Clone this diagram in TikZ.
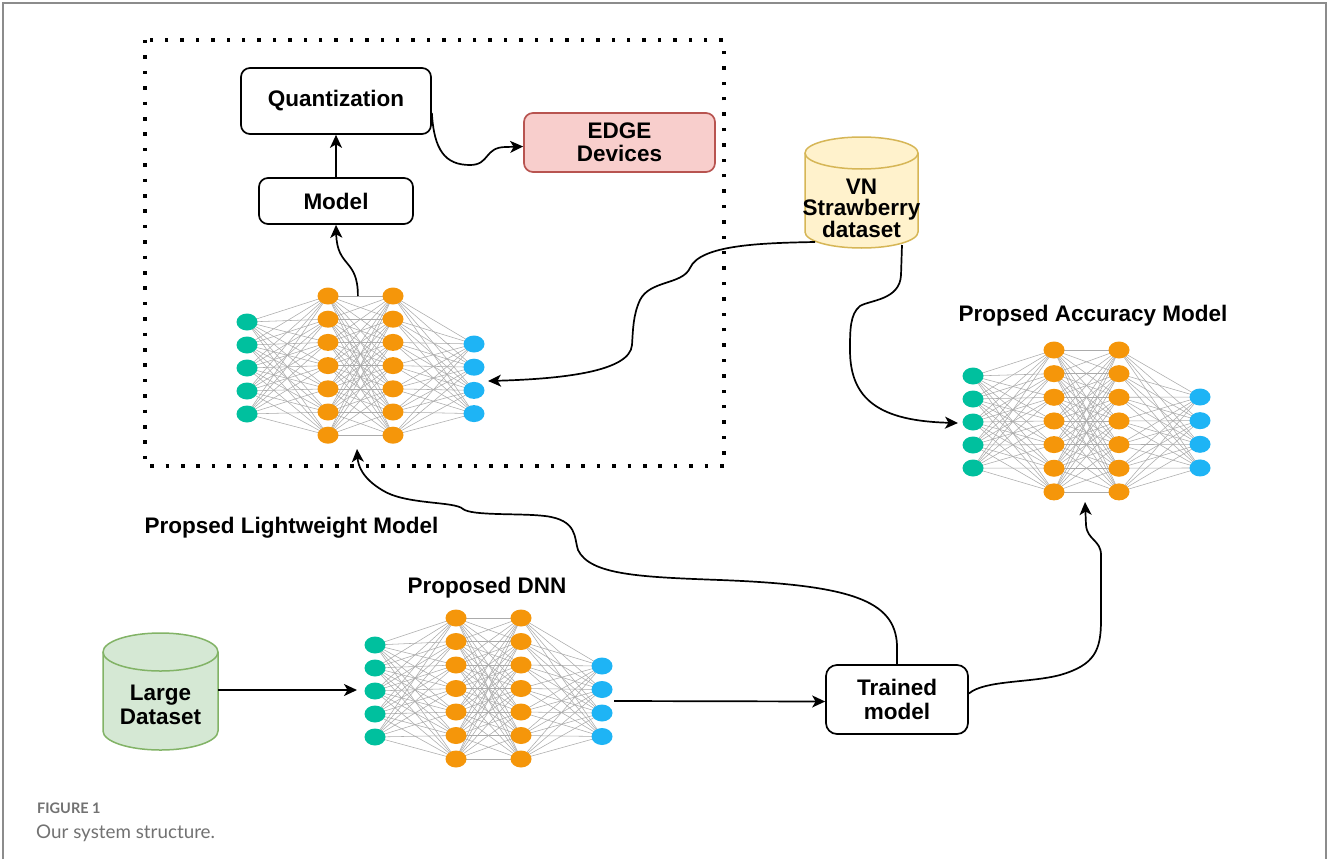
\documentclass[tikz,border=0pt]{standalone}
\usepackage{fontspec}
\setmainfont{Liberation Sans}
\newfontfamily\latofont{Lato}
\usetikzlibrary{shapes.geometric,arrows.meta,calc}
\definecolor{tealc}{HTML}{00C09E}
\definecolor{orangec}{HTML}{F5960A}
\definecolor{bluec}{HTML}{1EB4F5}
\definecolor{edgefill}{HTML}{F8CECC}
\definecolor{edgedraw}{HTML}{B85450}
\definecolor{vnfill}{HTML}{FFF2CC}
\definecolor{vndraw}{HTML}{D6B656}
\definecolor{lgfill}{HTML}{D5E8D4}
\definecolor{lgdraw}{HTML}{82B366}
\definecolor{framec}{HTML}{8C8C8C}
\definecolor{capc}{HTML}{727272}
\pgfdeclarelayer{bg}
\pgfsetlayers{bg,main}
\tikzset{
  box/.style={draw=black, line width=1.7, rounded corners=9, fill=white, inner sep=0},
  lbl/.style={font=\fontsize{22.5}{23.5}\selectfont\bfseries, align=center, inner sep=0},
  arr/.style={-{Stealth[length=13,width=12,inset=3.5]}, line width=1.7},
  neuron/.style={ellipse, minimum width=21, minimum height=17, inner sep=0, draw=none},
  nin/.style={neuron, fill=tealc},
  nhid/.style={neuron, fill=orangec},
  nout/.style={neuron, fill=bluec},
  nnedge/.style={draw=black!33, line width=0.55},
}
\newcommand{\nnet}[6]{%
  \foreach \k in {0,...,4} \node[nin] (#1-i\k) at (#2,{#3+23*\k}) {};
  \foreach \k in {0,...,6} \node[nhid] (#1-h\k) at ({#2+81},{#4+#6*\k}) {};
  \foreach \k in {0,...,6} \node[nhid] (#1-g\k) at ({#2+146},{#4+#6*\k}) {};
  \foreach \k in {0,...,3} \node[nout] (#1-o\k) at ({#2+227},{#5+#6*\k}) {};
  \begin{pgfonlayer}{bg}
    \foreach \a in {0,...,4} \foreach \b in {0,...,6} \draw[nnedge] (#1-i\a.center) -- (#1-h\b.center);
    \foreach \a in {0,...,6} \foreach \b in {0,...,6} \draw[nnedge] (#1-h\a.center) -- (#1-g\b.center);
    \foreach \a in {0,...,6} \foreach \b in {0,...,3} \draw[nnedge] (#1-g\a.center) -- (#1-o\b.center);
  \end{pgfonlayer}
}
\begin{document}
\begin{tikzpicture}[x=1pt,y=-1pt]
\useasboundingbox (0,0) rectangle (1329,859);
\begin{pgfonlayer}{bg}
\fill[white] (0,0) rectangle (1329,859);
\end{pgfonlayer}
% outer frame
\draw[framec, line width=2] (3,859) -- (3,3) -- (1326,3) -- (1326,859);
% dotted region
\draw[line width=3.5, dash pattern=on 3.5 off 11.9] (145,40) rectangle (724,466);

% boxes
\node[box, minimum width=190, minimum height=66] (quant) at (336,101) {};
\node[lbl] at (quant) {Quantization};
\node[box, minimum width=154, minimum height=46] (model) at (336,201) {};
\node[lbl] at (model) {Model};
\node[box, draw=edgedraw, fill=edgefill, minimum width=191, minimum height=59] (edge) at (619.5,142.5) {};
\node[lbl] at (edge) {EDGE\\Devices};
\node[box, minimum width=142, minimum height=69, rounded corners=11] (trained) at (897,699.5) {};
\node[lbl] at (trained) {Trained\\model};

% cylinders
\draw[line width=1.5, draw=vndraw, fill=vnfill] (805,153) -- (805,232) arc[start angle=180,end angle=0,x radius=56.5,y radius=16] -- (918,153) arc[start angle=0,end angle=-180,x radius=56.5,y radius=16] -- cycle;
\draw[line width=1.5, draw=vndraw] (805,153) arc[start angle=180,end angle=0,x radius=56.5,y radius=16];
\node[inner sep=0, minimum width=113, minimum height=111] (vn) at (861.5,192.5) {};
\node[lbl, font=\fontsize{22.5}{21.5}\selectfont\bfseries] at (861.5,208) {VN\\Strawberry\\dataset};

\draw[line width=1.5, draw=lgdraw, fill=lgfill] (103,652) -- (103,731) arc[start angle=180,end angle=0,x radius=57.5,y radius=19] -- (218,652) arc[start angle=0,end angle=-180,x radius=57.5,y radius=19] -- cycle;
\draw[line width=1.5, draw=lgdraw] (103,652) arc[start angle=180,end angle=0,x radius=57.5,y radius=19];
\node[inner sep=0, minimum width=115, minimum height=118] (large) at (160.5,691) {};
\node[lbl] at (160.5,705) {Large\\Dataset};

% networks
\nnet{a}{247}{322}{296}{344}{23.2}
\nnet{b}{375}{645}{618}{666}{23.5}
\nnet{c}{973}{376}{350}{397}{23.65}

% labels
\node[lbl] (lbllight) at (291.5,528) {Propsed Lightweight Model};
\node[lbl] (lbldnn) at (487,588) {Proposed DNN};
\node[lbl] (lblacc) at (1093,316) {Propsed Accuracy Model};

% coordinates for connector ends
\coordinate (n1top) at ($(a-h0)!0.46!(a-g0)$);
\coordinate (n1out) at (488,381);
\coordinate (n1bot) at (357,449);
\coordinate (vnL) at (815,242);
\coordinate (vnR) at (902,245);
\coordinate (n2out) at (614,701);
\coordinate (n3bot) at (1085,502);
\coordinate (n3in) at (958,423);

% connectors
\draw[arr] (model.north) -- (quant.south);
\draw[arr] (n1top) .. controls (358,258) and (337,268) .. (model.south);
\draw[arr] ($(quant.east)+(0,12)$) .. controls (434,150) and (445,165) .. (470,165) .. controls (490,165) and (484,147) .. (506,147) -- ($(edge.west)+(0,4)$);
\draw[arr] (vnL) .. controls (760,243) and (700,245) .. (690,268) .. controls (682,285) and (650,280) .. (640,300) .. controls (633,315) and (633,330) .. (632,345) .. controls (630,372) and (560,379) .. (n1out);
\draw[arr] (vnR) -- (901,275) .. controls (900,300) and (870,300) .. (860,306) .. controls (850,314) and (850,330) .. (850,350) .. controls (850,400) and (880,421) .. (n3in);
\draw[arr] (large.east |- 0,690) -- (357,690);
\draw[arr] (n2out) -- ($(trained.west)+(0,2)$);
\draw[arr] (trained.north) -- (897,645) .. controls (895,600) and (850,585) .. (720,580) .. controls (640,577) and (590,575) .. (578,550) .. controls (574,538) and (578,520) .. (545,516) .. controls (520,513) and (472,516) .. (463,509) .. controls (455,501) and (405,505) .. (382,490) .. controls (362,478) and (358,465) .. (n1bot);
\draw[arr] ($(trained.east)+(0,-6)$) .. controls (985,680) and (1030,683) .. (1060,675) .. controls (1095,665) and (1101,650) .. (1101,620) -- (1101,555) .. controls (1101,540) and (1087,540) .. (1086,525) -- (n3bot);

% caption
\node[anchor=west, inner sep=0, text=capc, font=\latofont\bfseries\fontsize{14.5}{16}\selectfont] (figlbl) at (37,808) {FIGURE 1};
\node[anchor=west, inner sep=0, text=capc, font=\latofont\fontsize{18.8}{21}\selectfont] (figcap) at (36,833) {Our system structure.};
\end{tikzpicture}
\end{document}
